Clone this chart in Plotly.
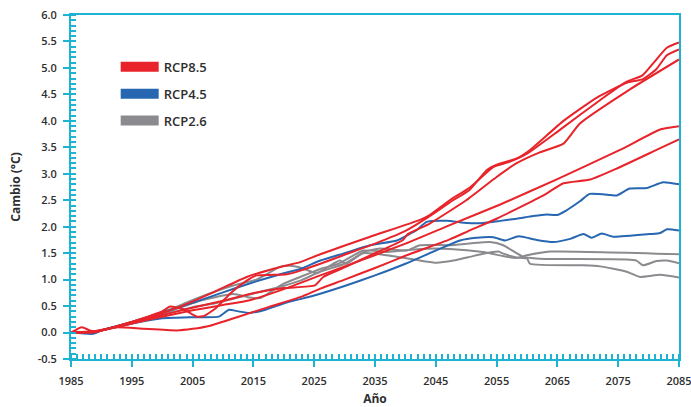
import plotly.graph_objects as go

# ---------------- data ----------------
x_tick_vals = [1985, 1995, 2005, 2015, 2025, 2035, 2045, 2055, 2065, 2075, 2085]
y_tick_vals = [-0.5, 0.0, 0.5, 1.0, 1.5, 2.0, 2.5, 3.0, 3.5, 4.0, 4.5, 5.0, 5.5, 6.0]
y_tick_text = ["-0.5", "0.0", "0.5", "1.0", "1.5", "2.0", "2.5", "3.0", "3.5", "4.0", "4.5", "5.0", "5.5", "6.0"]

legend_names = ["RCP8.5", "RCP4.5", "RCP2.6"]

# RCP8.5 runs
r1_years = [1985, 1988.7, 1995, 2000, 2002.9, 2008.4, 2013.9, 2019.4, 2022.7, 2026, 2034.2, 2042.4, 2044, 2047.3, 2050.6, 2054.5, 2057, 2060, 2065.4, 2072, 2076.4, 2079, 2081, 2083, 2085]
r1_vals = [0.0, 0.0, 0.2, 0.37, 0.49, 0.76, 1.05, 1.24, 1.33, 1.48, 1.81, 2.13, 2.22, 2.5, 2.74, 3.13, 3.22, 3.38, 3.83, 4.39, 4.74, 4.86, 5.12, 5.38, 5.48]

r2_years = [1985, 1986.8, 1988.6, 1995, 2000, 2001.3, 2003.5, 2005.7, 2007, 2009, 2011.2, 2013.9, 2015.5, 2018.3, 2020.5, 2023, 2026, 2030, 2035, 2040, 2044, 2047.3, 2050.6, 2053.4, 2055, 2058.3, 2060.5, 2066, 2071.5, 2076.4, 2079.1, 2081.3, 2083, 2085]
r2_vals = [0.0, 0.1, 0.02, 0.2, 0.4, 0.49, 0.44, 0.3, 0.32, 0.48, 0.74, 0.98, 1.08, 1.09, 1.1, 1.18, 1.3, 1.47, 1.68, 1.92, 2.2, 2.46, 2.7, 3.07, 3.17, 3.29, 3.45, 4.0, 4.44, 4.72, 4.79, 4.98, 5.24, 5.35]

r3_years = [1985, 1989, 1995, 2000, 2005, 2010, 2014.4, 2020, 2025.1, 2026.5, 2030, 2035, 2039.6, 2040.4, 2044, 2050, 2055, 2058.3, 2062, 2066, 2068.7, 2077, 2085]
r3_vals = [0.0, 0.02, 0.19, 0.33, 0.47, 0.6, 0.73, 0.84, 0.89, 1.05, 1.23, 1.5, 1.75, 1.86, 2.06, 2.5, 2.94, 3.2, 3.4, 3.57, 3.95, 4.6, 5.16]

r4_years = [1985, 1989, 1995, 2000, 2005, 2010, 2014.4, 2020, 2026, 2030, 2040, 2047.3, 2055.6, 2065, 2075.3, 2082, 2085]
r4_vals = [0.0, 0.02, 0.17, 0.3, 0.42, 0.52, 0.61, 0.82, 1.08, 1.25, 1.68, 2.03, 2.42, 2.9, 3.45, 3.84, 3.9]

r5_years = [1985, 1989, 1992.5, 1997, 2002.4, 2005, 2007.9, 2012.3, 2017.7, 2022.7, 2026, 2030, 2035, 2040, 2047.3, 2050.6, 2055, 2062.7, 2066, 2070.4, 2074.8, 2081.3, 2085]
r5_vals = [0.0, 0.03, 0.1, 0.07, 0.04, 0.07, 0.13, 0.29, 0.49, 0.67, 0.83, 1.0, 1.22, 1.45, 1.76, 1.93, 2.15, 2.59, 2.82, 2.89, 3.1, 3.45, 3.65]

# RCP4.5 runs
b1_years = [1985, 1988.7, 1990, 1995, 2000, 2005, 2010, 2015, 2020, 2022.7, 2026, 2030, 2034.2, 2038.6, 2040.8, 2041.9, 2043.5, 2046.8, 2050.1, 2052.8, 2055.6, 2058.3, 2061, 2063.2, 2064.9, 2066.5, 2068.7, 2070.3, 2073.7, 2074.8, 2076.9, 2079.7, 2082.4, 2085]
b1_vals = [0.0, -0.02, 0.04, 0.2, 0.38, 0.56, 0.76, 0.95, 1.12, 1.2, 1.36, 1.5, 1.65, 1.74, 1.87, 1.94, 2.09, 2.11, 2.07, 2.07, 2.11, 2.15, 2.2, 2.23, 2.22, 2.31, 2.48, 2.62, 2.6, 2.59, 2.72, 2.73, 2.84, 2.8]

b2_years = [1985, 1988.7, 1990, 1995, 2000, 2005, 2009.3, 2011, 2012.5, 2014.4, 2017, 2020, 2025, 2030, 2035, 2040, 2045, 2049, 2051.7, 2054.5, 2056.4, 2058.6, 2061.6, 2064.3, 2067.1, 2069.3, 2070.6, 2072.3, 2074.2, 2080.2, 2081.9, 2083, 2085]
b2_vals = [0.0, -0.02, 0.04, 0.17, 0.27, 0.29, 0.3, 0.43, 0.4, 0.37, 0.43, 0.55, 0.7, 0.88, 1.08, 1.3, 1.55, 1.74, 1.79, 1.8, 1.74, 1.82, 1.75, 1.71, 1.77, 1.86, 1.79, 1.87, 1.81, 1.86, 1.88, 1.95, 1.93]

# RCP2.6 runs
g1_years = [1985, 1989, 1995, 2000, 2003.5, 2006.2, 2011.7, 2015.5, 2019.4, 2021, 2023.2, 2025.4, 2027, 2029.2, 2030.3, 2033.1, 2035.8, 2040.2, 2042.4, 2047.3, 2053.9, 2056.1, 2059.4, 2061.6, 2063.8, 2076.4, 2078, 2079.1, 2081.3, 2083, 2085]
g1_vals = [0.0, 0.02, 0.2, 0.38, 0.54, 0.67, 0.89, 1.0, 1.24, 1.26, 1.21, 1.12, 1.22, 1.36, 1.3, 1.52, 1.59, 1.55, 1.65, 1.65, 1.71, 1.65, 1.43, 1.4, 1.39, 1.38, 1.36, 1.27, 1.35, 1.36, 1.31]

g2_years = [1985, 1989, 1995, 2000, 2006.2, 2011.7, 2014.4, 2016, 2017.2, 2019.9, 2022.7, 2026, 2029, 2033.1, 2037, 2042.4, 2047.3, 2052.8, 2056.7, 2058.3, 2060, 2063.8, 2085]
g2_vals = [0.0, 0.02, 0.18, 0.35, 0.6, 0.73, 0.66, 0.65, 0.72, 0.92, 1.05, 1.2, 1.3, 1.55, 1.52, 1.58, 1.58, 1.52, 1.43, 1.41, 1.46, 1.53, 1.48]

g3_years = [1985, 1989, 1995, 2000, 2005, 2009, 2014.4, 2019.9, 2022.7, 2026, 2030, 2033.1, 2037, 2042.4, 2045.1, 2047.9, 2050.6, 2052.8, 2055.3, 2056.1, 2058.3, 2060, 2060.5, 2069.3, 2072, 2076.4, 2078.6, 2081.9, 2085]
g3_vals = [0.0, 0.02, 0.17, 0.33, 0.48, 0.56, 0.72, 0.88, 0.98, 1.15, 1.3, 1.5, 1.46, 1.36, 1.32, 1.36, 1.43, 1.49, 1.53, 1.49, 1.42, 1.4, 1.3, 1.27, 1.25, 1.15, 1.05, 1.09, 1.04]

# ---------------- styling ----------------
RED = "#E8232A"
BLUE = "#2766B1"
GRAY = "#8B8B8F"
CYAN = "#1DB4D4"
TXT = "#2E2E2E"
FONT = "Open Sans"

fig = go.Figure()

groups = [
    (GRAY, [(g1_years, g1_vals), (g2_years, g2_vals), (g3_years, g3_vals)]),
    (BLUE, [(b1_years, b1_vals), (b2_years, b2_vals)]),
    (RED, [(r1_years, r1_vals), (r2_years, r2_vals), (r3_years, r3_vals), (r4_years, r4_vals), (r5_years, r5_vals)]),
]
for color, runs in groups:
    for yrs, vals in runs:
        fig.add_trace(go.Scatter(
            x=yrs, y=vals, mode="lines", showlegend=False, hoverinfo="skip",
            line=dict(color=color, width=2, shape="spline", smoothing=0.5),
        ))

for name, color in zip(legend_names, [RED, BLUE, GRAY]):
    fig.add_trace(go.Scatter(
        x=[None], y=[None], mode="lines", name=name, legendgroup=name,
        line=dict(color=color, width=10),
    ))

fig.update_layout(
    width=691, height=407,
    margin=dict(l=71, r=12, t=15, b=48),
    paper_bgcolor="white", plot_bgcolor="white",
    font=dict(family=FONT, color=TXT, size=11),
    legend=dict(
        x=0.0735, y=0.893, xanchor="left", yanchor="top",
        font=dict(family=FONT, size=13, color=TXT, weight=600),
        traceorder="grouped", tracegroupgap=7, itemwidth=38,
        bgcolor="rgba(0,0,0,0)",
    ),
)

fig.update_xaxes(
    range=[1985, 2085], tickvals=x_tick_vals, automargin=False, ticklabeloverflow="allow",
    showgrid=False, zeroline=False,
    showline=True, linecolor=CYAN, linewidth=2, mirror=True,
    ticks="outside", ticklen=6, tickwidth=2, tickcolor=CYAN, ticklabelstandoff=5,
    tickfont=dict(family=FONT, size=11, color=TXT, weight=600),
    minor=dict(dtick=1, ticks="inside", ticklen=5, tickwidth=1.5, tickcolor=CYAN, showgrid=False),
    title=dict(text="Año", font=dict(family=FONT, size=12, color=TXT, weight=700), standoff=13),
)
fig.update_yaxes(
    range=[-0.5, 6.0], tickvals=y_tick_vals, ticktext=y_tick_text, automargin=False, ticklabeloverflow="allow",
    showgrid=False, zeroline=False,
    showline=True, linecolor=CYAN, linewidth=2, mirror=True,
    ticks="outside", ticklen=6, tickwidth=2, tickcolor=CYAN, ticklabelstandoff=4,
    tickfont=dict(family=FONT, size=11, color=TXT, weight=600),
    minor=dict(dtick=0.1, ticks="inside", ticklen=5, tickwidth=1.5, tickcolor=CYAN, showgrid=False),
    title=dict(text="Cambio (°C)", font=dict(family=FONT, size=12, color=TXT, weight=700), standoff=14),
)

fig.write_html(
    "out.html",
    config={"displayModeBar": False},
    post_script="document.body.style.margin='0px';",
)
